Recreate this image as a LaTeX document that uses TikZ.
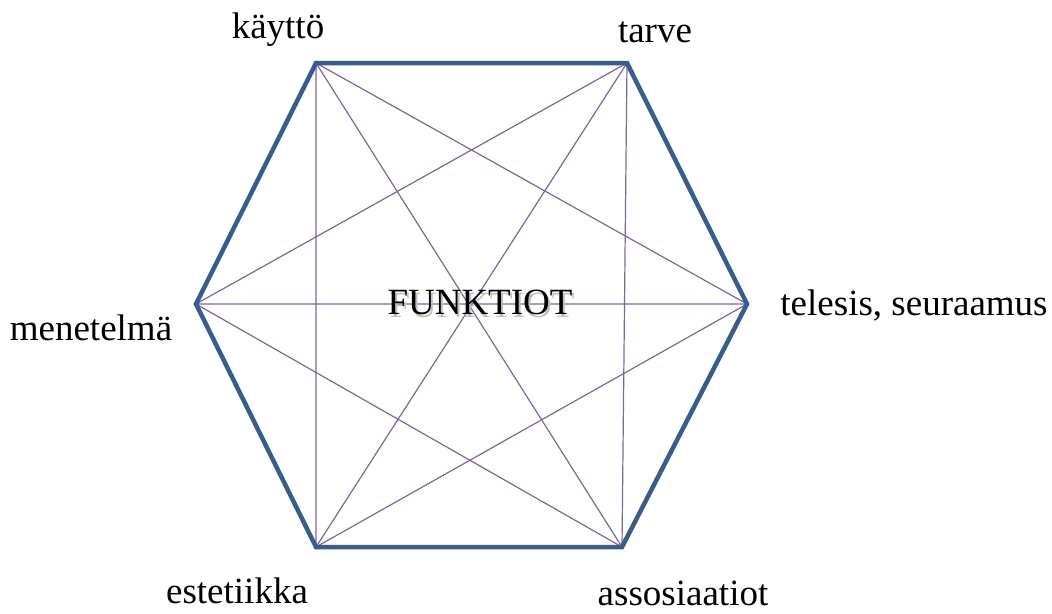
\documentclass[tikz,border=0pt]{standalone}
\usepackage{fontspec}
\setmainfont{Liberation Serif}
\definecolor{hexblue}{HTML}{385D8A}
\definecolor{innerpurple}{HTML}{8064A2}
\tikzset{
  outer/.style={draw=hexblue, line width=4.5pt, line join=miter},
  inner/.style={draw=innerpurple, line width=1.2pt},
  lbl/.style={font=\fontsize{37}{40}\selectfont, inner sep=0pt},
  vtx/.style={inner sep=0pt, minimum size=0pt}
}
\begin{document}
\begin{tikzpicture}[x=1pt,y=-1pt]
\useasboundingbox (0,0) rectangle (1052,613);
\coordinate (A) at (316,63);
\coordinate (B) at (627,63);
\coordinate (C) at (747,304);
\coordinate (D) at (622,547);
\coordinate (E) at (316,547);
\coordinate (F) at (196,304);
% inner lines
\draw[inner] (A) -- (C) (A) -- (D) (A) -- (E);
\draw[inner] (B) -- (D) (B) -- (E) (B) -- (F);
\draw[inner] (C) -- (E) (C) -- (F);
\draw[inner] (D) -- (F);
% outer hexagon
\draw[outer] (A) -- (B) -- (C) -- (D) -- (E) -- (F) -- cycle;
% center text with shadow
\node[lbl, text=black!25] (shadow) at (482,305) {FUNKTIOT};
\node[lbl] (center) at (480,302) {FUNKTIOT};
% labels
\node[lbl] (lA) at (278,30) {käyttö};
\node[lbl] (lB) at (655,32) {tarve};
\node[lbl] (lC) at (914,306) {telesis, seuraamus};
\node[lbl] (lF) at (91,328) {menetelmä};
\node[lbl] (lE) at (237,591) {estetiikka};
\node[lbl] (lD) at (683,593) {assosiaatiot};
\end{tikzpicture}
\end{document}
